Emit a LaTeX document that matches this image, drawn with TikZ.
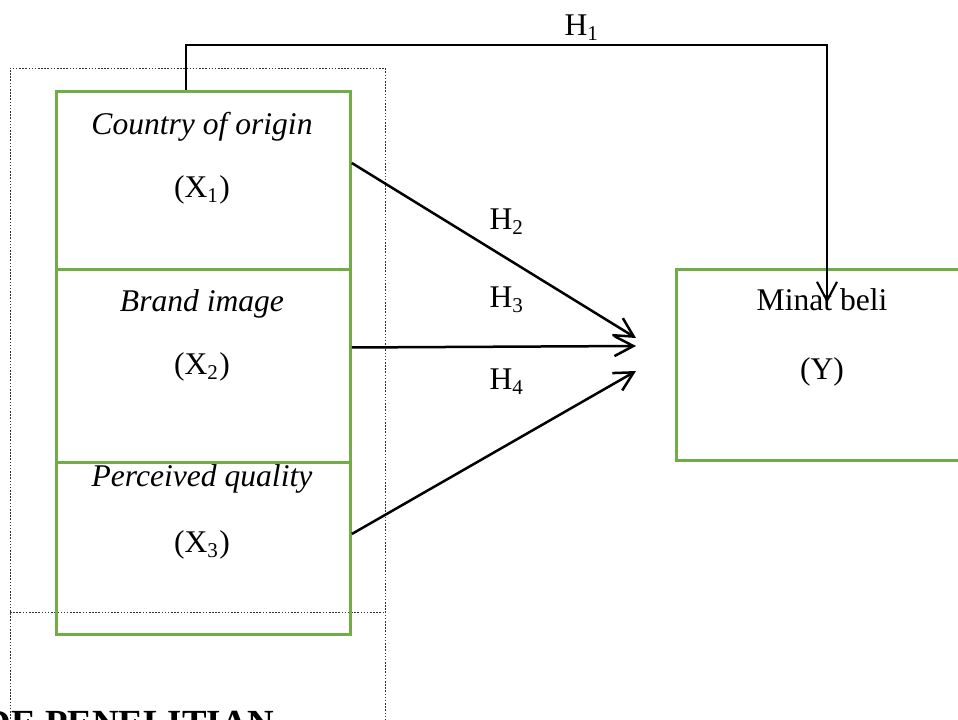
\documentclass[tikz,border=0pt]{standalone}
\usepackage{fontspec}
\setmainfont{Liberation Serif}
\usetikzlibrary{arrows.meta,calc}
\definecolor{boxgreen}{RGB}{112,173,71}
\begin{document}
\begin{tikzpicture}[x=0.38pt,y=-0.38pt,
  box/.style={draw=boxgreen,line width=1.1pt,minimum width=111.7pt,minimum height=73.3pt,inner sep=0pt,anchor=north west},
  dotline/.style={draw=black!80,line width=0.35pt,dash pattern=on 0.6pt off 0.6pt},
  lbl/.style={inner sep=0pt,font=\fontsize{12}{14}\selectfont},
  arr/.style={line width=0.95pt,-{Straight Barb[length=7.2pt,width=7.6pt]}},
  harr/.style={line width=0.8pt,-{Straight Barb[length=7.2pt,width=7.6pt]}}]
\useasboundingbox (0,0) rectangle (958,719);
\clip (0,0) rectangle (958,719);
% dotted frame
\draw[dotline] (10,760) |- (385,68) -- (385,760);
\draw[dotline] (10,612) -- (385,612);
% boxes
\node[box] (b1) at (55,90) {};
\node[box] (b3) at (55,440) {};
\node[box,fill=white] (b2) at (55,268) {};
\node[box,minimum height=72.6pt] (y) at (675,268) {};
% texts
\node[lbl,font=\fontsize{12}{14}\selectfont\itshape] (t1a) at (202,127) {Country of origin};
\node[lbl] (t1b) at (202,190) {(X\textsubscript{1})};
\node[lbl,font=\fontsize{12}{14}\selectfont\itshape] (t2a) at (202,304) {Brand image};
\node[lbl] (t2b) at (202,367) {(X\textsubscript{2})};
\node[lbl,font=\fontsize{12}{14}\selectfont\itshape] (t3a) at (202,479) {Perceived quality};
\node[lbl] (t3b) at (202,545) {(X\textsubscript{3})};
\node[lbl] (ya) at (822,300) {Minat beli};
\node[lbl] (yb) at (822,372) {(Y)};
% hypothesis labels
\node[lbl] (h1) at (582,28) {H\textsubscript{1}};
\node[lbl] (h2) at (507,222) {H\textsubscript{2}};
\node[lbl] (h3) at (507,300) {H\textsubscript{3}};
\node[lbl] (h4) at (507,382) {H\textsubscript{4}};
% connectors
\coordinate (s1) at ($(b1.north east)!0.373!(b1.south east)$);
\coordinate (s2) at ($(b2.north east)!0.406!(b2.south east)$);
\coordinate (s3) at ($(b3.north east)!0.48!(b3.south east)$);
\coordinate (e2) at (636,338);
\coordinate (e3) at (636,346);
\coordinate (e4) at (636,371);
\draw[arr] (s1) -- (e2);
\draw[arr] (s2) -- (e3);
\draw[arr] (s3) -- (e4);
\coordinate (h1s) at ($(b1.north west)!0.442!(b1.north east)$);
\coordinate (h1c) at (827,45);
\coordinate (h1t) at (827,303);
\draw[harr] (h1s) |- (h1c) -- (h1t);
% cut-off heading
\node[inner sep=0pt,anchor=base east,font=\bfseries\fontsize{14}{16}\selectfont] (title) at (275,735) {METODE PENELITIAN};
\end{tikzpicture}
\end{document}
